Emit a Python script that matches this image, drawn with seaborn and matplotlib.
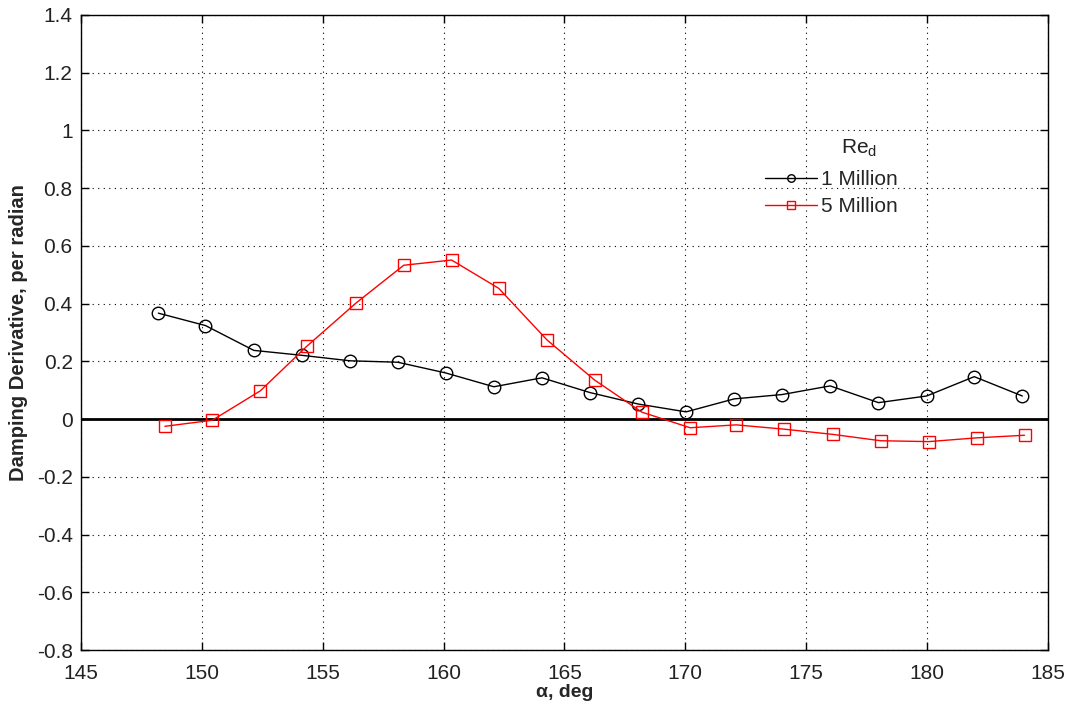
import matplotlib
matplotlib.use("Agg")
import matplotlib.pyplot as plt
import pandas as pd
import seaborn as sns

# angle of attack (deg) and damping derivative, per Reynolds number
alpha_1m = [148.2, 150.15, 152.15, 154.13, 156.12, 158.1, 160.08, 162.08, 164.07, 166.05,
            168.06, 170.03, 172.02, 174.0, 175.99, 177.99, 179.98, 181.95, 183.94]
damp_1m = [0.367, 0.324, 0.238, 0.221, 0.202, 0.197, 0.160, 0.112, 0.143, 0.092,
           0.052, 0.025, 0.070, 0.085, 0.115, 0.057, 0.080, 0.147, 0.080]

alpha_5m = [148.47, 150.43, 152.42, 154.35, 156.39, 158.35, 160.33, 162.28, 164.28, 166.25,
            168.2, 170.2, 172.1, 174.1, 176.1, 178.08, 180.07, 182.05, 184.03]
damp_5m = [-0.025, -0.004, 0.098, 0.253, 0.403, 0.533, 0.551, 0.453, 0.274, 0.135,
           0.024, -0.030, -0.020, -0.035, -0.053, -0.075, -0.078, -0.065, -0.056]

x_ticks = list(range(145, 186, 5))
y_ticks = [-0.8, -0.6, -0.4, -0.2, 0, 0.2, 0.4, 0.6, 0.8, 1, 1.2, 1.4]

sns.set_style("white")
plt.rcParams["font.family"] = ["Liberation Sans", "DejaVu Sans"]

df_1m = pd.DataFrame({"alpha": alpha_1m, "damp": damp_1m})
df_5m = pd.DataFrame({"alpha": alpha_5m, "damp": damp_5m})

fig = plt.figure(figsize=(10.7, 7.04), dpi=100)
ax = fig.add_axes([0.0757, 0.0767, 0.9037, 0.902])

ax.axhline(0, color="black", lw=2, zorder=1)
sns.lineplot(data=df_1m, x="alpha", y="damp", ax=ax, color="black", lw=1,
             marker="o", markersize=9, markerfacecolor="none", markeredgecolor="black",
             markeredgewidth=1, label="1 Million", zorder=3)
sns.lineplot(data=df_5m, x="alpha", y="damp", ax=ax, color="#ff0000", lw=1,
             marker="s", markersize=9, markerfacecolor="none", markeredgecolor="#ff0000",
             markeredgewidth=1, label="5 Million", zorder=3)

ax.set_xlim(145, 185)
ax.set_ylim(-0.8, 1.4)
ax.set_xticks(x_ticks)
ax.set_yticks(y_ticks)
ax.set_yticklabels([f"{v:g}" for v in y_ticks])
ax.grid(True, color="black", linestyle=(0, (1, 4)), lw=0.8)
ax.tick_params(direction="in", length=6, width=1, labelsize=15, colors="black",
               labelcolor="#222222", top=True, right=True, bottom=True, left=True)
ax.tick_params(axis="x", pad=10)
ax.tick_params(axis="y", pad=6)
for s in ax.spines.values():
    s.set_color("black")
    s.set_linewidth(1)

ax.set_xlabel("α, deg", fontsize=14, fontweight="bold", labelpad=1)
ax.set_ylabel("Damping Derivative, per radian", fontsize=14.5, fontweight="bold", labelpad=6)

leg = ax.legend(frameon=False, loc="upper left", bbox_to_anchor=(0.699, 0.769),
                fontsize=15, handlelength=2.5, handletextpad=0.2, markerscale=0.6,
                labelspacing=0.4, borderaxespad=0)
fig.text(859 / 1070, 1 - 148 / 704, "Re$_\\mathregular{d}$", fontsize=15,
         color="#222222", ha="center", va="center")

fig.savefig("out.png", dpi=100)
plt.close(fig)
